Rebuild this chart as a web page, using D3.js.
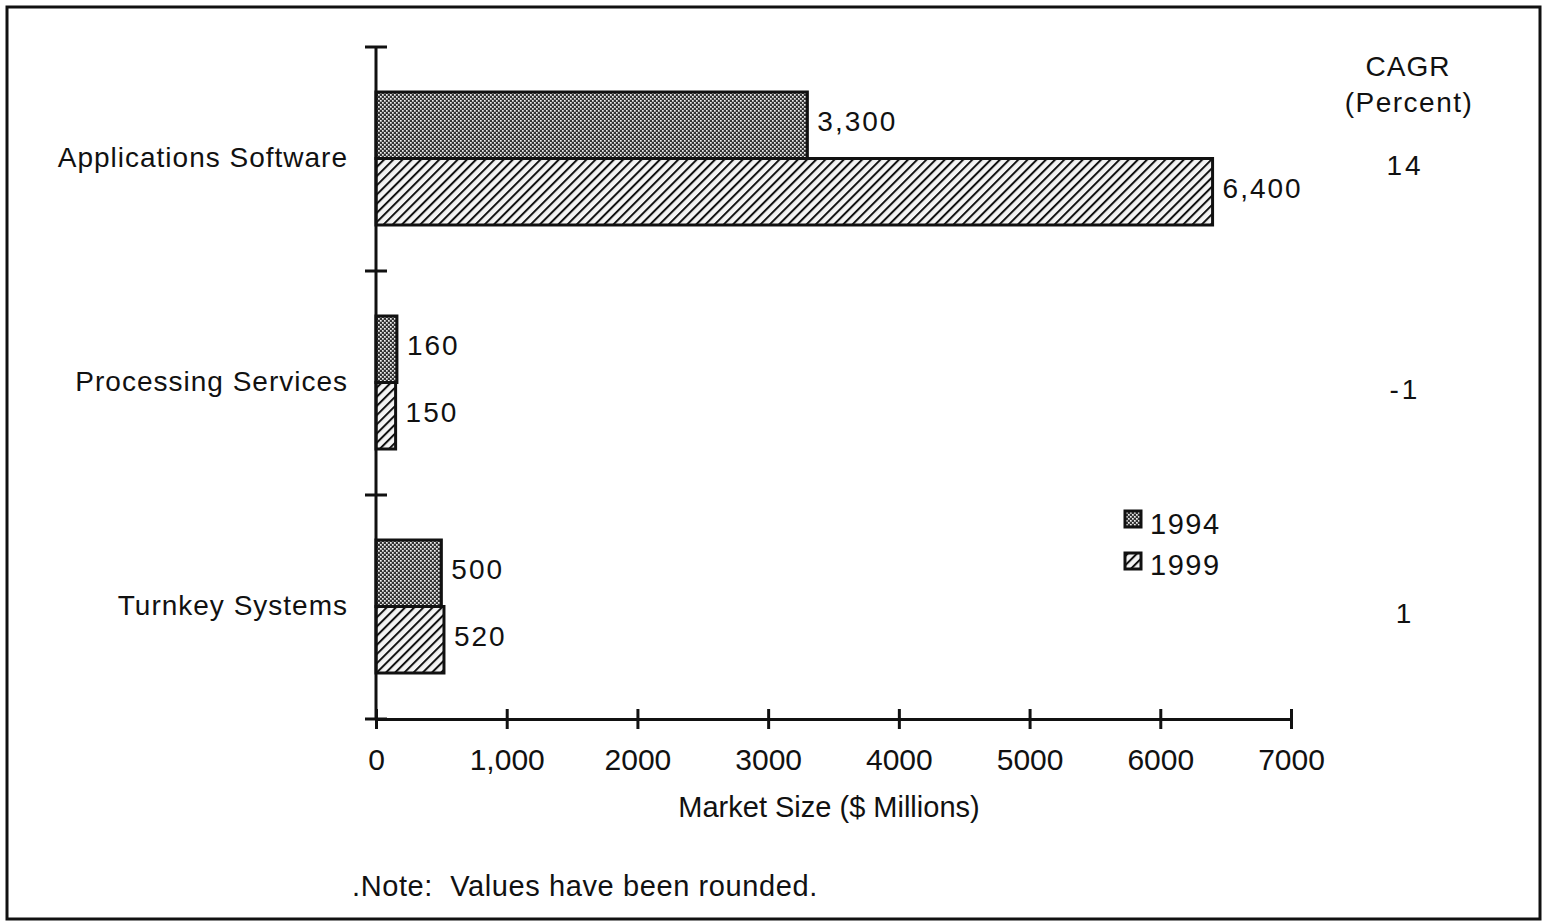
<!DOCTYPE html>
<html lang="en">
<head>
  <meta charset="UTF-8" />
  <title>Market Size</title>
  <script src="https://d3js.org/d3.v7.min.js"></script>
  <style>
    body { margin: 0; background: #fff; }
    text { font-family: "Liberation Sans", Arial, sans-serif; fill: #111; }
  </style>
</head>
<body>
  <svg id="chart" width="1548" height="922"></svg>

  <script>
    // data
    const categories = ["Applications Software", "Processing Services", "Turnkey Systems"];
    const values1994 = [3300, 160, 500];
    const values1999 = [6400, 150, 520];
    const cagr = ["14", "-1", "1"];
    const seriesNames = ["1994", "1999"];
    const xTickValues = [0, 1000, 2000, 3000, 4000, 5000, 6000, 7000];
    const xTickLabels = ["0", "1,000", "2000", "3000", "4000", "5000", "6000", "7000"];

    const svg = d3.select("#chart");
    const plotLeft = 376, plotRight = 1291, plotTop = 47, plotBottom = 719;

    // frame round the whole figure
    svg.append("rect")
      .attr("x", 7).attr("y", 7)
      .attr("width", 1533).attr("height", 912)
      .attr("fill", "none").attr("stroke", "#111").attr("stroke-width", 3);

    // fill patterns
    const defs = svg.append("defs");
    const dots = defs.append("pattern")
      .attr("id", "dots").attr("patternUnits", "userSpaceOnUse")
      .attr("width", 4).attr("height", 4);
    dots.append("rect").attr("width", 4).attr("height", 4).attr("fill", "#333");
    dots.append("rect").attr("x", 0).attr("y", 0).attr("width", 1.7).attr("height", 1.7).attr("fill", "#eee");
    dots.append("rect").attr("x", 2).attr("y", 2).attr("width", 1.7).attr("height", 1.7).attr("fill", "#eee");

    const hatch = defs.append("pattern")
      .attr("id", "hatch").attr("patternUnits", "userSpaceOnUse")
      .attr("width", 6.5).attr("height", 6.5)
      .attr("patternTransform", "rotate(45)");
    hatch.append("rect").attr("width", 6.5).attr("height", 6.5).attr("fill", "#f4f4f4");
    hatch.append("line").attr("x1", 1).attr("y1", 0).attr("x2", 1).attr("y2", 6.5)
      .attr("stroke", "#111").attr("stroke-width", 2);

    const fills = ["url(#dots)", "url(#hatch)"];

    const x = d3.scaleLinear().domain([0, 7000]).range([plotLeft, plotRight]);
    const y = d3.scaleBand().domain(categories).range([plotTop, plotBottom]);
    const inner = d3.scaleBand().domain(seriesNames).range([45, y.bandwidth() - 46]);

    // bars
    const series = [values1994, values1999];
    series.forEach((vals, si) => {
      const g = svg.append("g");
      g.selectAll("rect")
        .data(categories)
        .join("rect")
        .attr("x", x(0))
        .attr("y", (d) => y(d) + inner(seriesNames[si]))
        .attr("width", (d, i) => x(vals[i]) - x(0))
        .attr("height", inner.bandwidth())
        .attr("fill", fills[si])
        .attr("stroke", "#111")
        .attr("stroke-width", 3);

      g.selectAll("text")
        .data(categories)
        .join("text")
        .attr("x", (d, i) => x(vals[i]) + 10)
        .attr("y", (d) => y(d) + inner(seriesNames[si]) + inner.bandwidth() / 2 - 4)
        .attr("dy", "0.35em")
        .attr("font-size", 28)
        .attr("letter-spacing", 2)
        .text((d, i) => d3.format(",")(vals[i]));
    });

    // x axis
    const xAxis = svg.append("g")
      .attr("transform", `translate(0,${plotBottom})`)
      .call(d3.axisBottom(x).tickValues(xTickValues)
        .tickFormat((d, i) => xTickLabels[i]).tickSize(0).tickPadding(30));
    xAxis.select(".domain").attr("stroke", "#111").attr("stroke-width", 3);
    xAxis.selectAll("text").attr("font-size", 30).attr("font-family", "Liberation Sans, Arial, sans-serif").attr("fill", "#111");
    xAxis.selectAll(".tick line").remove();
    xAxis.selectAll(".tick").append("line")
      .attr("y1", -10).attr("y2", 10).attr("stroke", "#111").attr("stroke-width", 3);

    // y axis
    const yAxis = svg.append("g").attr("transform", `translate(${plotLeft},0)`);
    yAxis.append("line").attr("y1", plotTop).attr("y2", plotBottom)
      .attr("stroke", "#111").attr("stroke-width", 3);
    const yTickPos = categories.map((d) => y(d)).concat([plotBottom]);
    yAxis.selectAll(".yt")
      .data(yTickPos)
      .join("line")
      .attr("class", "yt")
      .attr("x1", -11).attr("x2", 11)
      .attr("y1", (d) => d).attr("y2", (d) => d)
      .attr("stroke", "#111").attr("stroke-width", 3);
    yAxis.selectAll(".cat")
      .data(categories)
      .join("text")
      .attr("class", "cat")
      .attr("x", -28)
      .attr("y", (d) => y(d) + y.bandwidth() / 2 - 2)
      .attr("dy", "0.35em")
      .attr("text-anchor", "end")
      .attr("font-size", 28)
      .attr("letter-spacing", 1)
      .text((d) => d);

    // CAGR column
    svg.append("text").attr("x", 1408).attr("y", 66).attr("dy", "0.35em")
      .attr("text-anchor", "middle").attr("font-size", 28).attr("letter-spacing", 1).text("CAGR");
    svg.append("text").attr("x", 1409).attr("y", 102).attr("dy", "0.35em")
      .attr("text-anchor", "middle").attr("font-size", 28).attr("letter-spacing", 1.5).text("(Percent)");
    svg.selectAll(".cagr")
      .data(categories)
      .join("text")
      .attr("class", "cagr")
      .attr("x", 1405)
      .attr("y", (d) => y(d) + y.bandwidth() / 2 + 6)
      .attr("dy", "0.35em")
      .attr("text-anchor", "middle")
      .attr("font-size", 28)
      .attr("letter-spacing", 3)
      .text((d, i) => cagr[i]);

    // legend
    const legend = svg.append("g").attr("transform", "translate(1124,510)");
    seriesNames.forEach((name, i) => {
      legend.append("rect")
        .attr("x", 1).attr("y", i * 42 + 1)
        .attr("width", 16).attr("height", 16)
        .attr("fill", fills[i]).attr("stroke", "#111").attr("stroke-width", 3);
      legend.append("text")
        .attr("x", 26).attr("y", i * 41 + 14)
        .attr("dy", "0.35em")
        .attr("font-size", 29)
        .attr("letter-spacing", 1.5)
        .text(name);
    });

    // axis title and note
    svg.append("text").attr("x", 829).attr("y", 807).attr("dy", "0.35em")
      .attr("text-anchor", "middle").attr("font-size", 29)
      .text("Market Size ($ Millions)");
    svg.append("text").attr("x", 352).attr("y", 886).attr("dy", "0.35em")
      .attr("font-size", 29)
      .attr("letter-spacing", 0.6)
      .style("white-space", "pre")
      .text(".Note:  Values have been rounded.");
  </script>
</body>
</html>
